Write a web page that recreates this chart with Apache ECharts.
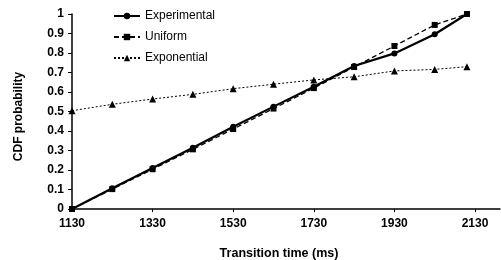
<!DOCTYPE html>
<html>
<head>
<meta charset="utf-8">
<script src="https://cdn.jsdelivr.net/npm/echarts@6/dist/echarts.min.js"></script>
<style>html,body{margin:0;padding:0;background:#fff;}#c{width:501px;height:260px;}</style>
</head>
<body>
<div id="c"></div>
<script>
const times = [1130, 1230, 1330, 1430, 1530, 1630, 1730, 1830, 1930, 2030, 2110];
const experimental = [0, 0.106, 0.21, 0.314, 0.422, 0.525, 0.627, 0.733, 0.798, 0.896, 1.0];
const uniform = [0, 0.102, 0.204, 0.306, 0.41, 0.515, 0.62, 0.728, 0.836, 0.944, 1.0];
const exponential = [0.504, 0.537, 0.564, 0.588, 0.617, 0.64, 0.662, 0.678, 0.708, 0.716, 0.73];
const xTicks = [1130, 1330, 1530, 1730, 1930, 2130];

const pair = (ys) => times.map((t, i) => [t, ys[i]]);
const font = '"Liberation Sans", Arial, sans-serif';

const chart = echarts.init(document.getElementById('c'), null, {renderer: 'canvas'});
chart.setOption({
  animation: false,
  backgroundColor: '#fff',
  grid: {left: 72, right: 1, top: 14, bottom: 51, containLabel: false, outerBoundsMode: 'none'},
  legend: {
    orient: 'vertical', left: 108, top: 5, itemGap: 9, itemWidth: 26, itemHeight: 8,
    textStyle: {fontFamily: font, fontSize: 12, color: '#000'},
    data: ['Experimental', 'Uniform', 'Exponential']
  },
  xAxis: {
    type: 'value', min: 1130, max: 2192, interval: 200,
    name: 'Transition time (ms)', nameLocation: 'middle', nameGap: 38,
    nameTextStyle: {fontFamily: font, fontSize: 12.5, fontWeight: 'bold', color: '#000', padding: [0, 14, 0, 0]},
    axisLine: {lineStyle: {color: '#000', width: 1.5}},
    axisTick: {show: true, length: 3, inside: false, lineStyle: {color: '#000'}},
    axisLabel: {
      margin: 9, fontFamily: font, fontSize: 12, fontWeight: 'bold', color: '#000',
      showMaxLabel: false,
      formatter: (v) => xTicks.includes(v) ? String(v) : ''
    },
    splitLine: {show: false}
  },
  yAxis: {
    type: 'value', min: 0, max: 1, interval: 0.1,
    name: 'CDF probability', nameLocation: 'middle', nameGap: 47, nameRotate: 90,
    nameTextStyle: {fontFamily: font, fontSize: 12, fontWeight: 'bold', color: '#000', padding: [0, 10, 0, 0]},
    axisLine: {show: true, lineStyle: {color: '#000', width: 1.5}},
    axisTick: {show: true, length: 4, inside: false, lineStyle: {color: '#000'}},
    axisLabel: {
      margin: 8, fontFamily: font, fontSize: 12, fontWeight: 'bold', color: '#000',
      formatter: (v) => String(Math.round(v * 10) / 10)
    },
    splitLine: {show: false}
  },
  series: [
    {
      name: 'Experimental', type: 'line', data: pair(experimental),
      symbol: 'circle', symbolSize: 6, color: '#000',
      lineStyle: {color: '#000', width: 2.2, type: 'solid'},
      itemStyle: {color: '#000'}, z: 3
    },
    {
      name: 'Uniform', type: 'line', data: pair(uniform),
      symbol: 'rect', symbolSize: 6, color: '#000',
      lineStyle: {color: '#000', width: 1.3, type: [5, 3]},
      itemStyle: {color: '#000'}, z: 2
    },
    {
      name: 'Exponential', type: 'line', data: pair(exponential),
      symbol: 'triangle', symbolSize: 7, color: '#000',
      lineStyle: {color: '#000', width: 1, type: [2, 2]},
      itemStyle: {color: '#000'}, z: 2
    }
  ]
});
</script>
</body>
</html>
